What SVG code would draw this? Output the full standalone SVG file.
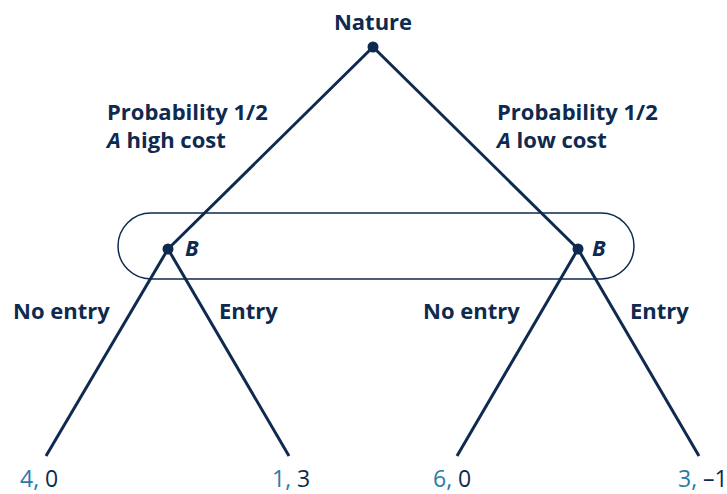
<svg xmlns="http://www.w3.org/2000/svg" width="727" height="494" viewBox="0 0 727 494">
<style>
.t{font-family:"Open Sans","Noto Sans",sans-serif;font-size:22px;fill:#0e2a4f}
.b{font-weight:bold}
.i{font-style:italic}
.p{fill:#2a7aa6}
.q{font-size:23px}
.e{stroke:#0e2a4f;stroke-width:3;fill:none;stroke-linecap:butt}
.n{fill:#0e2a4f}
</style>
<rect width="727" height="494" fill="#fff"/>
<g id="connectors">
<line class="e" x1="373" y1="47" x2="168" y2="249"/>
<line class="e" x1="373" y1="47" x2="578" y2="249"/>
<line class="e" x1="168" y1="249" x2="46" y2="456"/>
<line class="e" x1="168" y1="249" x2="289" y2="456"/>
<line class="e" x1="578" y1="249" x2="457" y2="456"/>
<line class="e" x1="578" y1="249" x2="699" y2="456"/>
</g>
<g id="infoset">
<rect x="118" y="213" width="516" height="66" rx="33" fill="none" stroke="#0e2a4f" stroke-width="1.5"/>
</g>
<g id="nature">
<circle class="n" cx="373" cy="47" r="5.5"/>
<text class="t b" x="373" y="30" text-anchor="middle">Nature</text>
</g>
<g id="label-high">
<text class="t b" x="107" y="120">Probability 1/2</text>
<text class="t b" x="107" y="148"><tspan class="i">A</tspan> high cost</text>
</g>
<g id="label-low">
<text class="t b" x="497" y="120">Probability 1/2</text>
<text class="t b" x="497" y="148"><tspan class="i">A</tspan> low cost</text>
</g>
<g id="nodeB1">
<circle class="n" cx="168" cy="249" r="5.5"/>
<text class="t b i" x="185" y="256">B</text>
</g>
<g id="nodeB2">
<circle class="n" cx="578" cy="249" r="5.5"/>
<text class="t b i" x="592" y="256">B</text>
</g>
<g id="branch-labels">
<text class="t b" x="13" y="319">No entry</text>
<text class="t b" x="219" y="319">Entry</text>
<text class="t b" x="423" y="319">No entry</text>
<text class="t b" x="630" y="319">Entry</text>
</g>
<g id="payoffs">
<text class="t q" x="20" y="487"><tspan class="p">4,</tspan> 0</text>
<text class="t q" x="272" y="487"><tspan class="p">1,</tspan> 3</text>
<text class="t q" x="433" y="487"><tspan class="p">6,</tspan> 0</text>
<text class="t q" x="678" y="487"><tspan class="p">3,</tspan> –1</text>
</g>
</svg>
